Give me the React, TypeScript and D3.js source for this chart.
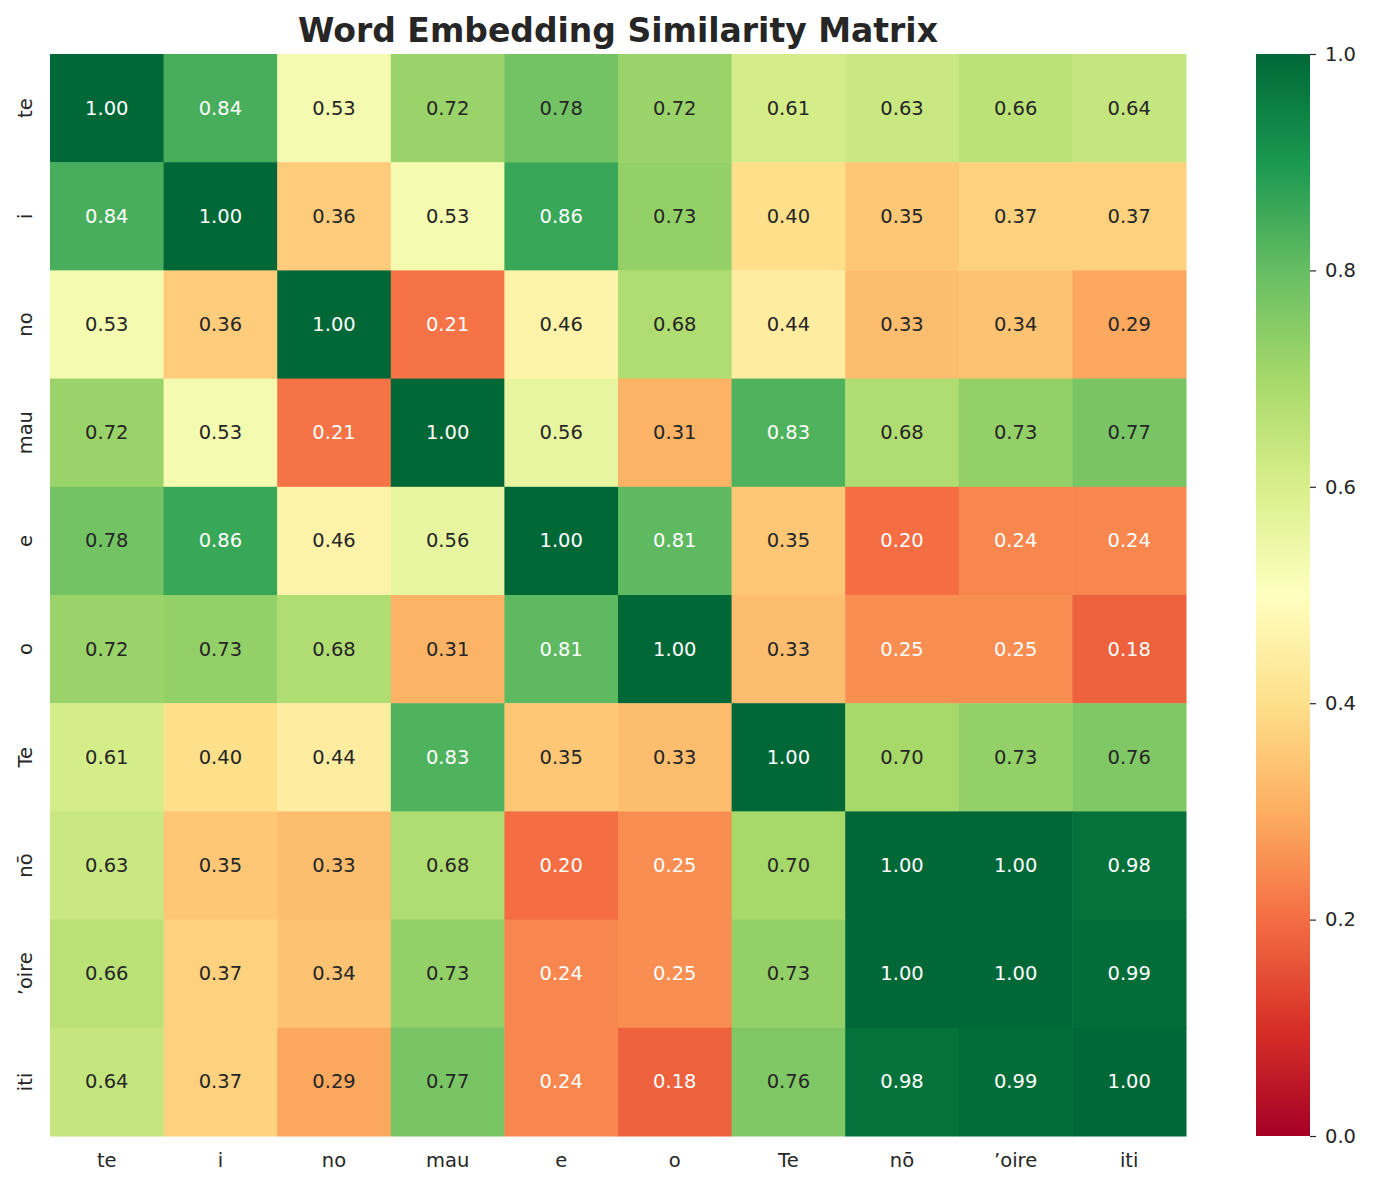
import React, { useEffect, useRef } from "react";
import * as d3 from "d3";

// Similarity heatmap with a vertical colour bar

const words = ["te", "i", "no", "mau", "e", "o", "Te", "nō", "\u2019oire", "iti"];

const similarity = [
  [1.0, 0.84, 0.53, 0.72, 0.78, 0.72, 0.61, 0.63, 0.66, 0.64],
  [0.84, 1.0, 0.36, 0.53, 0.86, 0.73, 0.4, 0.35, 0.37, 0.37],
  [0.53, 0.36, 1.0, 0.21, 0.46, 0.68, 0.44, 0.33, 0.34, 0.29],
  [0.72, 0.53, 0.21, 1.0, 0.56, 0.31, 0.83, 0.68, 0.73, 0.77],
  [0.78, 0.86, 0.46, 0.56, 1.0, 0.81, 0.35, 0.2, 0.24, 0.24],
  [0.72, 0.73, 0.68, 0.31, 0.81, 1.0, 0.33, 0.25, 0.25, 0.18],
  [0.61, 0.4, 0.44, 0.83, 0.35, 0.33, 1.0, 0.7, 0.73, 0.76],
  [0.63, 0.35, 0.33, 0.68, 0.2, 0.25, 0.7, 1.0, 1.0, 0.98],
  [0.66, 0.37, 0.34, 0.73, 0.24, 0.25, 0.73, 1.0, 1.0, 0.99],
  [0.64, 0.37, 0.29, 0.77, 0.24, 0.18, 0.76, 0.98, 0.99, 1.0],
];

const colorbarTicks = [0, 0.2, 0.4, 0.6, 0.8, 1.0];

// RdYlGn, linearly interpolated between the 11 brewer stops
const rdYlGn = [
  "#a50026", "#d73027", "#f46d43", "#fdae61", "#fee08b", "#ffffbf",
  "#d9ef8b", "#a6d96a", "#66bd63", "#1a9850", "#006837",
];

const FONT = "'DejaVu Sans', sans-serif";
const INK = "#262626";

function luminance(c: string) {
  const rgb = d3.rgb(c);
  const lin = [rgb.r, rgb.g, rgb.b].map((v) => {
    const s = v / 255;
    return s <= 0.03928 ? s / 12.92 : Math.pow((s + 0.055) / 1.055, 2.4);
  });
  return 0.2126 * lin[0] + 0.7152 * lin[1] + 0.0722 * lin[2];
}

export default function App() {
  const ref = useRef<SVGSVGElement>(null);

  useEffect(() => {
    const width = 1373, height = 1186;
    const svg = d3.select(ref.current).attr("width", width).attr("height", height);
    svg.selectAll("*").remove();

    const left = 50, top = 54, right = 1186, bottom = 1136;

    const color = d3.scaleLinear<string>()
      .domain(d3.range(rdYlGn.length).map((i) => i / (rdYlGn.length - 1)))
      .range(rdYlGn)
      .interpolate(d3.interpolateRgb)
      .clamp(true);

    const x = d3.scaleBand().domain(words).range([left, right]);
    const y = d3.scaleBand().domain(words).range([top, bottom]);

    const cells = similarity.flatMap((row, i) =>
      row.map((v, j) => ({ r: words[i], c: words[j], v }))
    );

    const g = svg.append("g");
    g.selectAll("rect.cell")
      .data(cells)
      .join("rect")
      .attr("class", "cell")
      .attr("x", (d) => x(d.c)!)
      .attr("y", (d) => y(d.r)!)
      .attr("width", x.bandwidth() + 0.5)
      .attr("height", y.bandwidth() + 0.5)
      .attr("fill", (d) => color(d.v));

    g.selectAll("text.annot")
      .data(cells)
      .join("text")
      .attr("class", "annot")
      .attr("x", (d) => x(d.c)! + x.bandwidth() / 2)
      .attr("y", (d) => y(d.r)! + y.bandwidth() / 2)
      .attr("text-anchor", "middle")
      .attr("dominant-baseline", "central")
      .style("font-family", FONT)
      .style("font-size", "19.5px")
      .attr("fill", (d) => (luminance(color(d.v)) < 0.408 ? "#ffffff" : INK))
      .text((d) => d.v.toFixed(2));

    // tick labels
    svg.append("g").selectAll("text")
      .data(words)
      .join("text")
      .attr("x", (d) => x(d)! + x.bandwidth() / 2)
      .attr("y", bottom + 24)
      .attr("text-anchor", "middle")
      .attr("dominant-baseline", "central")
      .style("font-family", FONT)
      .style("font-size", "19.5px")
      .attr("fill", INK)
      .text((d) => d);

    svg.append("g").selectAll("text")
      .data(words)
      .join("text")
      .attr("transform", (d) => `translate(25, ${y(d)! + y.bandwidth() / 2}) rotate(-90)`)
      .attr("text-anchor", "middle")
      .attr("dominant-baseline", "central")
      .style("font-family", FONT)
      .style("font-size", "19.5px")
      .attr("fill", INK)
      .text((d) => d);

    // title
    svg.append("text")
      .attr("x", (left + right) / 2)
      .attr("y", 30)
      .attr("text-anchor", "middle")
      .attr("dominant-baseline", "central")
      .style("font-family", FONT)
      .style("font-size", "33px")
      .style("font-weight", "bold")
      .attr("fill", INK)
      .text("Word Embedding Similarity Matrix");

    // colour bar
    const cbX = 1256, cbW = 54;
    const cy = d3.scaleLinear().domain([0, 1]).range([bottom, top]);
    const defs = svg.append("defs");
    const grad = defs.append("linearGradient")
      .attr("id", "cbar")
      .attr("x1", 0).attr("y1", 1).attr("x2", 0).attr("y2", 0);
    grad.selectAll("stop")
      .data(d3.range(0, 1.0001, 0.02))
      .join("stop")
      .attr("offset", (d) => d)
      .attr("stop-color", (d) => color(d));
    svg.append("rect")
      .attr("x", cbX)
      .attr("y", top)
      .attr("width", cbW)
      .attr("height", bottom - top)
      .attr("fill", "url(#cbar)");

    const axis = svg.append("g")
      .attr("transform", `translate(${cbX + cbW}, 0)`)
      .call(d3.axisRight(cy).tickValues(colorbarTicks).tickFormat(d3.format(".1f")).tickSize(6).tickPadding(9));
    axis.select(".domain").remove();
    axis.selectAll("line").attr("stroke", INK).attr("stroke-width", 1.2);
    axis.selectAll("text")
      .style("font-family", FONT)
      .style("font-size", "19.5px")
      .attr("fill", INK);
  }, []);

  return (
    <div style={{ position: "absolute", left: 0, top: 0, background: "#fff" }}>
      <svg ref={ref} style={{ display: "block" }} />
    </div>
  );
}
